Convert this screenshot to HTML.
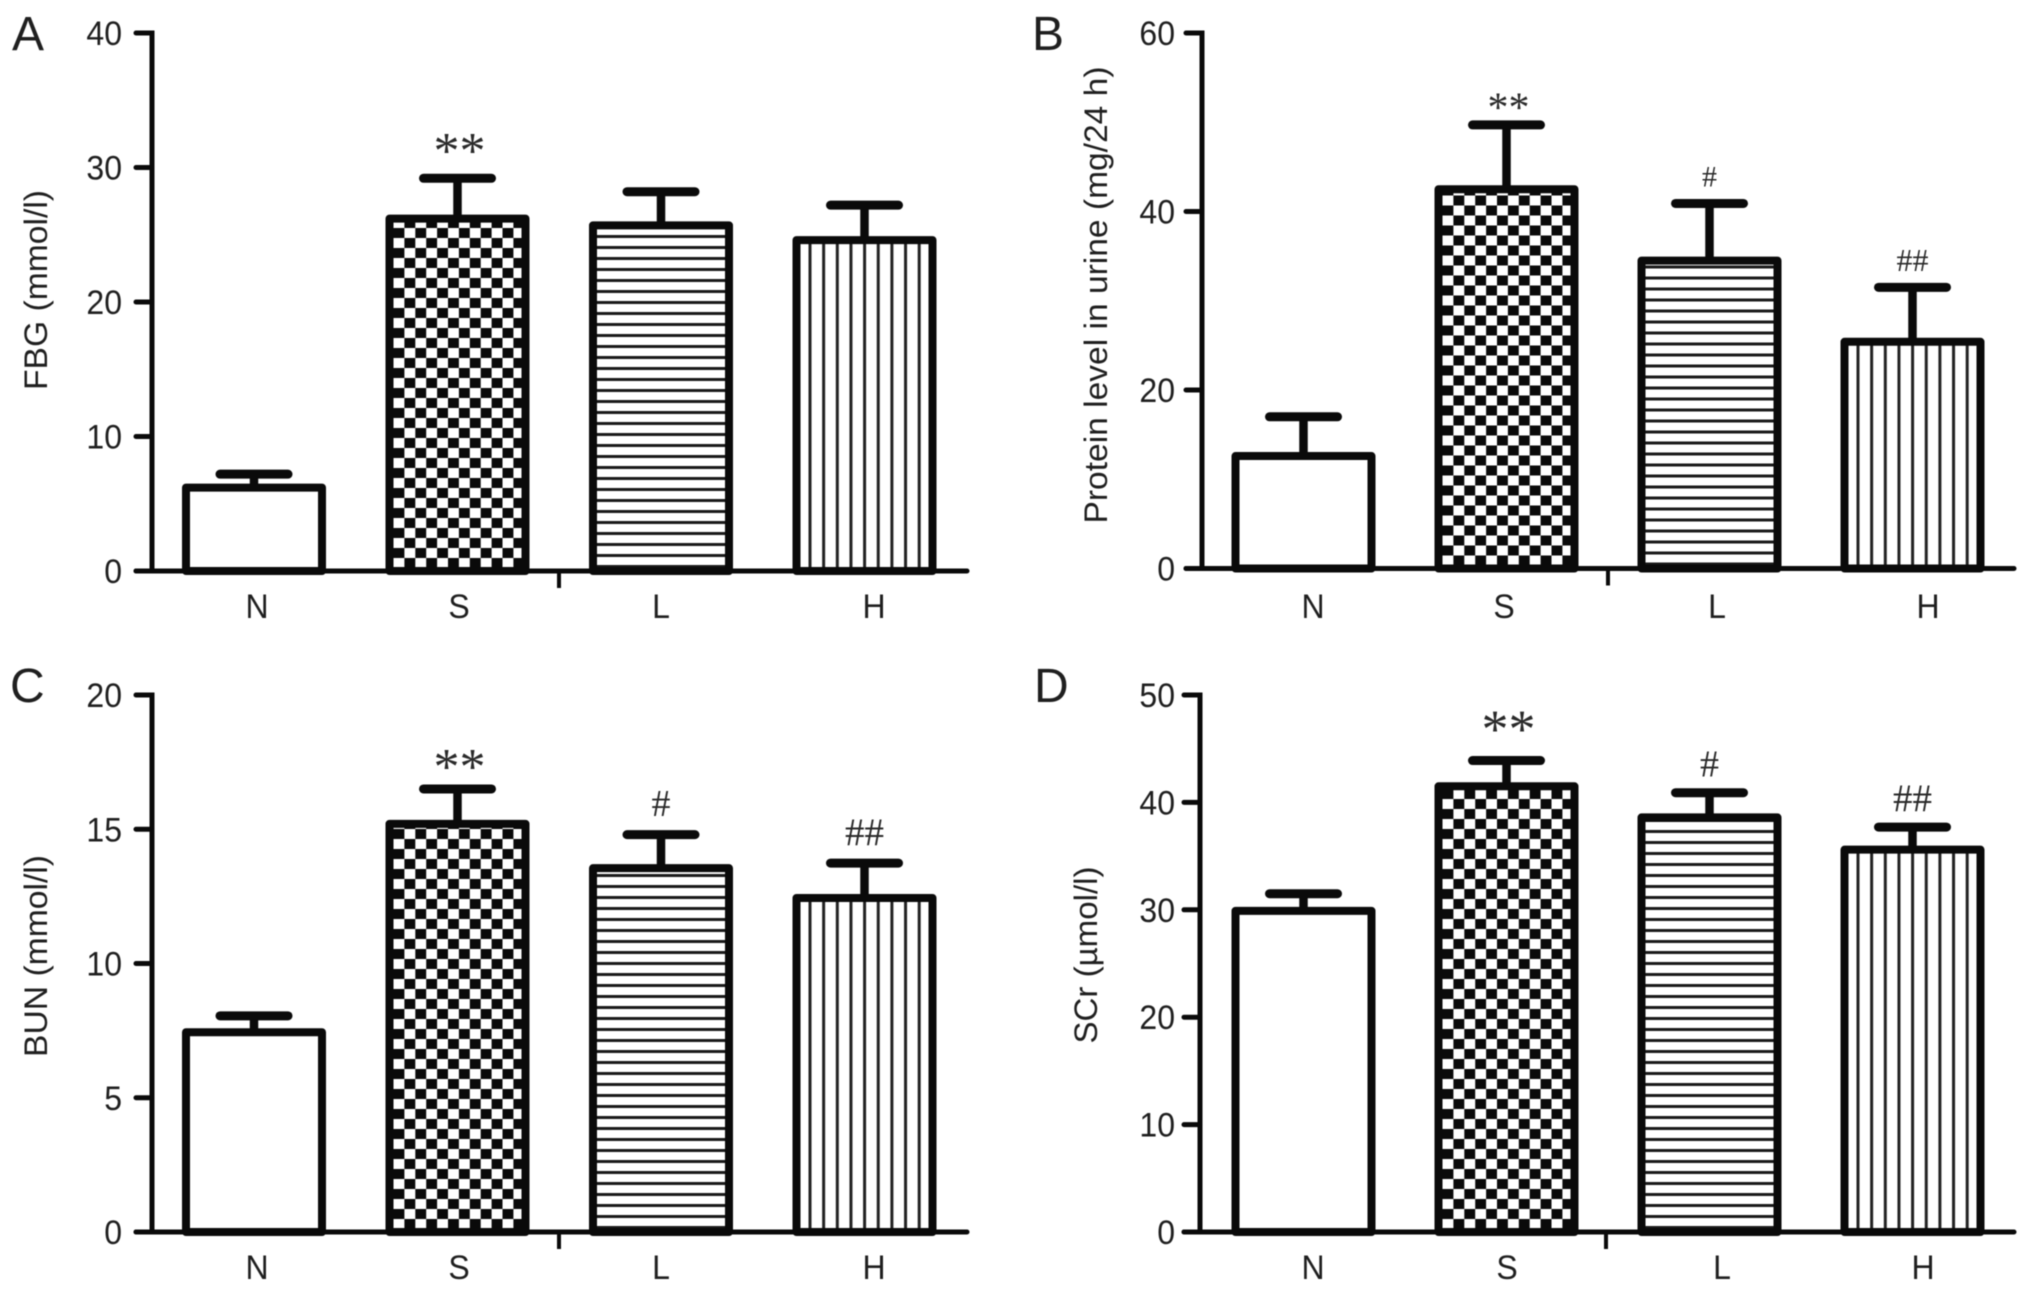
<!DOCTYPE html>
<html lang="en">
<head>
<meta charset="utf-8">
<title>Renal and metabolic indices by group</title>
<style>
  html, body { margin: 0; padding: 0; background: #fff; width: 2032px; height: 1303px; overflow: hidden; }
  svg { display: block; filter: blur(0.6px); }
  text { font-family: "Liberation Sans", sans-serif; fill: #1f1f1f; }
  .mark-text { font-family: "Liberation Serif", serif; fill: #2a2a2a; }
</style>
</head>
<body>
<svg id="figure" xmlns="http://www.w3.org/2000/svg" width="2032" height="1303" viewBox="0 0 2032 1303">
  <rect width="2032" height="1303" fill="#fff"/>
  <defs id="defs"></defs>
</svg>
<script>
const categories = ['N', 'S', 'L', 'H'];

const fbgMeans = [6.2, 26.2, 25.7, 24.6];
const fbgUpper = [7.2, 29.2, 28.2, 27.2];
const fbgTicks = [0, 10, 20, 30, 40];
const fbgMarks = ['', '**', '', ''];

const proteinMeans = [12.6, 42.5, 34.5, 25.4];
const proteinUpper = [17.0, 49.7, 40.9, 31.5];
const proteinTicks = [0, 20, 40, 60];
const proteinMarks = ['', '**', '#', '##'];

const bunMeans = [7.44, 15.2, 13.55, 12.44];
const bunUpper = [8.05, 16.5, 14.8, 13.74];
const bunTicks = [0, 5, 10, 15, 20];
const bunMarks = ['', '**', '#', '##'];

const scrMeans = [29.9, 41.5, 38.6, 35.6];
const scrUpper = [31.5, 43.9, 40.9, 37.7];
const scrTicks = [0, 10, 20, 30, 40, 50];
const scrMarks = ['', '**', '#', '##'];

const SVG_NS = 'http://www.w3.org/2000/svg';
const figure = document.getElementById('figure');
const defs = document.getElementById('defs');



function make(parent, tag, name, attrs, textValue) {
  const el = document.createElementNS(SVG_NS, tag);
  
  
  for (const key in attrs) el.setAttribute(key, attrs[key]);
  if (textValue !== undefined) el.textContent = textValue;
  parent.appendChild(el);
  return el;
}

function addPattern(id, kind, originX, originY) {
  const sizes = { check: [21.8, 20], horiz: [10, 11], vert: [13.65, 10] };
  const p = make(defs, 'pattern', 'fill-pattern-' + kind, {
    id: id, patternUnits: 'userSpaceOnUse',
    width: sizes[kind][0], height: sizes[kind][1],
    patternTransform: 'translate(' + originX + ' ' + originY + ')'
  });
  make(p, 'rect', 'pattern-ground', { width: sizes[kind][0], height: sizes[kind][1], fill: '#fff' });
  if (kind === 'check') {
    make(p, 'rect', 'pattern-cell', { x: 0, y: 0, width: 10.9, height: 10, fill: '#0a0a0a' });
    make(p, 'rect', 'pattern-cell', { x: 10.9, y: 10, width: 10.9, height: 10, fill: '#0a0a0a' });
  } else if (kind === 'horiz') {
    make(p, 'rect', 'pattern-line', { x: 0, y: 0, width: 10, height: 3, fill: '#1a1a1a' });
  } else {
    make(p, 'rect', 'pattern-line', { x: 0, y: 0, width: 3, height: 10, fill: '#222' });
  }
}

function drawPanel(cfg) {
  const g = make(figure, 'g', 'panel-' + cfg.letter.toLowerCase(), {});
  const yMax = cfg.ticks[cfg.ticks.length - 1];
  const yScale = v => cfg.y0 - (v / yMax) * (cfg.y0 - cfg.yTop);
  const xBar = i => cfg.barStart + i * cfg.barStep;
  const barW = 136;

  make(g, 'text', 'panel-letter', {
    x: cfg.letterX, y: cfg.letterY, 'font-size': 48
  }, cfg.letter);

  const kinds = [null, 'check', 'horiz', 'vert'];
  categories.forEach((cat, i) => {
    const x = xBar(i);
    const top = yScale(cfg.means[i]);
    const capY = yScale(cfg.upper[i]);
    const cx = x + barW / 2;
    const key = cat.toLowerCase();

    make(g, 'line', 'error-stem-' + key, {
      x1: cx, x2: cx, y1: capY, y2: top, stroke: '#0a0a0a', 'stroke-width': 8.5
    });
    make(g, 'line', 'error-cap-' + key, {
      x1: cx - 34, x2: cx + 34, y1: capY, y2: capY,
      stroke: '#0a0a0a', 'stroke-width': 9, 'stroke-linecap': 'round'
    });

    let fill = '#fff';
    if (kinds[i]) {
      const id = 'fill-' + cfg.letter + '-' + key;
      const ox = kinds[i] === 'vert' ? x + 12 : x + 4;
      const oy = kinds[i] === 'check' ? cfg.y0 - 3 : cfg.y0 - 6;
      addPattern(id, kinds[i], ox, oy);
      fill = 'url(#' + id + ')';
    }
    make(g, 'rect', 'bar-' + key, {
      x: x, y: top, width: barW, height: cfg.y0 - top,
      fill: fill, stroke: '#0a0a0a', 'stroke-width': 8, 'stroke-linejoin': 'round'
    });

    make(g, 'text', 'x-label-' + key, {
      transform: 'translate(' + cfg.labelX[i] + ' ' + cfg.labelY + ') scale(1 1.06)',
      'font-size': 32, 'text-anchor': 'middle'
    }, cat);

    const mark = cfg.marks[i];
    if (mark) {
      const isStar = mark.indexOf('*') >= 0;
      const size = isStar ? cfg.starSize : (mark.length === 2 ? cfg.doubleHashSize : cfg.hashSize);
      const gap = isStar ? cfg.starGap : cfg.hashGap;
      const baseY = capY - gap + (isStar ? size * 0.42 : size * 0.33);
      make(g, 'text', 'significance-' + key, {
        class: 'mark-text', x: cx + (isStar ? 2 : 0), y: baseY, 'font-size': size, 'text-anchor': 'middle'
      }, mark);
    }
  });

  make(g, 'line', 'y-axis-line', {
    x1: cfg.axisX, x2: cfg.axisX, y1: cfg.yTop - 2.5, y2: cfg.y0,
    stroke: '#0a0a0a', 'stroke-width': 5
  });
  make(g, 'line', 'x-axis-line', {
    x1: cfg.axisX - 16, x2: cfg.xEnd, y1: cfg.y0, y2: cfg.y0,
    stroke: '#0a0a0a', 'stroke-width': 5, 'stroke-linecap': 'round'
  });
  make(g, 'line', 'x-axis-center-tick', {
    x1: cfg.midTick, x2: cfg.midTick, y1: cfg.y0, y2: cfg.y0 + 17,
    stroke: '#0a0a0a', 'stroke-width': 4
  });

  cfg.ticks.forEach(t => {
    const y = yScale(t);
    make(g, 'line', 'y-tick-' + t, {
      x1: cfg.axisX - 16, x2: cfg.axisX, y1: y, y2: y,
      stroke: '#0a0a0a', 'stroke-width': 5, 'stroke-linecap': 'round'
    });
    make(g, 'text', 'y-tick-label-' + t, {
      transform: 'translate(' + cfg.tickLabelX + ' ' + (y + 12) + ') scale(1 1.08)',
      'font-size': 32, 'text-anchor': 'end'
    }, String(t));
  });

  make(g, 'text', 'y-axis-title', {
    transform: 'translate(' + cfg.titleX + ' ' + cfg.titleY + ') rotate(-90)',
    'font-size': 32, 'text-anchor': 'middle',
    textLength: cfg.titleLen, lengthAdjust: 'spacingAndGlyphs'
  }, cfg.title);
}

drawPanel({
  letter: 'A', letterX: 12, letterY: 50, title: 'FBG (mmol/l)', titleX: 47, titleY: 290, titleLen: 200,
  means: fbgMeans, upper: fbgUpper, ticks: fbgTicks, marks: fbgMarks,
  axisX: 152, xEnd: 967, y0: 571, yTop: 33, tickLabelX: 122,
  barStart: 186, barStep: 203.5, midTick: 559,
  labelX: [257, 459, 661, 874], labelY: 618,
  starSize: 52, starGap: 32, hashSize: 36, doubleHashSize: 38, hashGap: 29
});
drawPanel({
  letter: 'B', letterX: 1032, letterY: 50, title: 'Protein level in urine (mg/24 h)', titleX: 1107, titleY: 295, titleLen: 457,
  means: proteinMeans, upper: proteinUpper, ticks: proteinTicks, marks: proteinMarks,
  axisX: 1202, xEnd: 2014, y0: 568.5, yTop: 33, tickLabelX: 1175,
  barStart: 1235.5, barStep: 203, midTick: 1608,
  labelX: [1313, 1504, 1717, 1928], labelY: 618,
  starSize: 42, starGap: 21, hashSize: 30, doubleHashSize: 32, hashGap: 27
});
drawPanel({
  letter: 'C', letterX: 10, letterY: 702, title: 'BUN (mmol/l)', titleX: 47, titleY: 956, titleLen: 202,
  means: bunMeans, upper: bunUpper, ticks: bunTicks, marks: bunMarks,
  axisX: 152, xEnd: 967, y0: 1232, yTop: 695, tickLabelX: 122,
  barStart: 186, barStep: 203.5, midTick: 559,
  labelX: [257, 459, 661, 874], labelY: 1279,
  starSize: 52, starGap: 27, hashSize: 38, doubleHashSize: 39, hashGap: 31
});
drawPanel({
  letter: 'D', letterX: 1034, letterY: 702, title: 'SCr (\u00b5mol/l)', titleX: 1097, titleY: 955, titleLen: 177,
  means: scrMeans, upper: scrUpper, ticks: scrTicks, marks: scrMarks,
  axisX: 1200, xEnd: 2014, y0: 1232, yTop: 695, tickLabelX: 1175,
  barStart: 1235.5, barStep: 203, midTick: 1606,
  labelX: [1313, 1507, 1722, 1923], labelY: 1279,
  starSize: 54, starGap: 36, hashSize: 38, doubleHashSize: 39, hashGap: 29
});
</script>
</body>
</html>
